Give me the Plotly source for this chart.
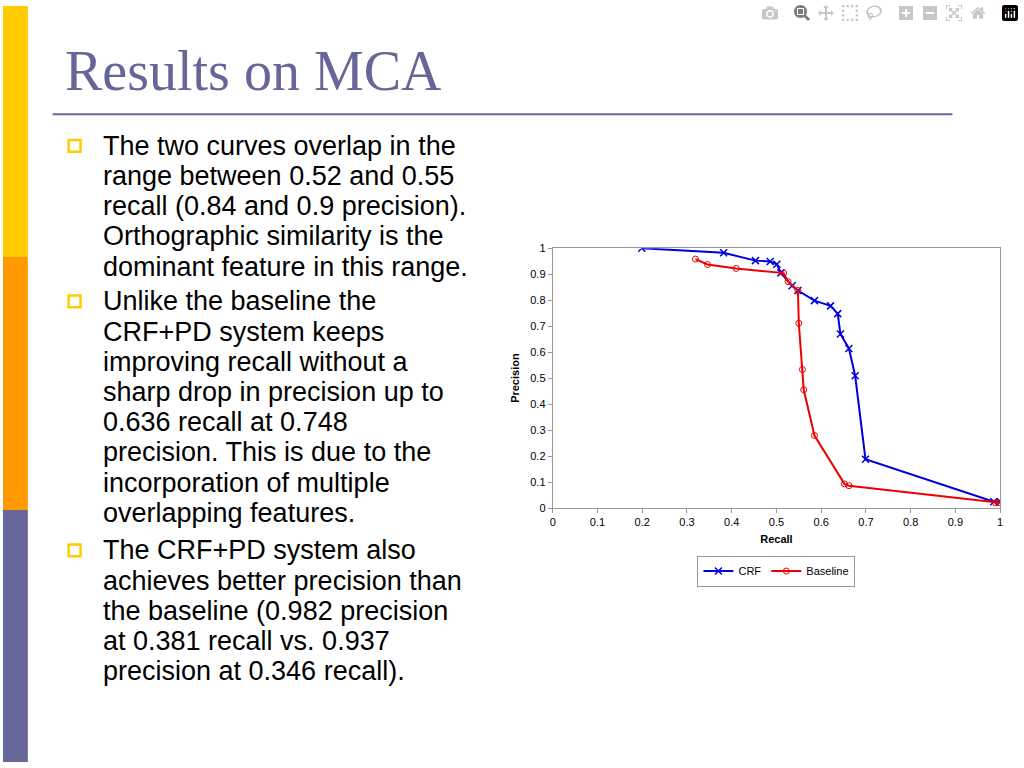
import plotly.graph_objects as go

crf_recall = [0.199, 0.382, 0.453, 0.486, 0.501, 0.510, 0.535, 0.548, 0.585, 0.621,
              0.637, 0.643, 0.662, 0.676, 0.699, 0.986, 1.0]
crf_precision = [1.0, 0.982, 0.952, 0.949, 0.938, 0.905, 0.855, 0.837, 0.798, 0.778,
                 0.748, 0.670, 0.614, 0.509, 0.188, 0.024, 0.024]

base_recall = [0.319, 0.346, 0.410, 0.516, 0.526, 0.548, 0.550, 0.558, 0.561, 0.585,
               0.652, 0.662, 0.990, 1.0]
base_precision = [0.958, 0.937, 0.922, 0.904, 0.871, 0.837, 0.711, 0.533, 0.455, 0.279,
                  0.093, 0.086, 0.020, 0.020]

ticks = [0, 0.1, 0.2, 0.3, 0.4, 0.5, 0.6, 0.7, 0.8, 0.9, 1]
tick_labels = ["0", "0.1", "0.2", "0.3", "0.4", "0.5", "0.6", "0.7", "0.8", "0.9", "1"]

bullets = [
    ["The two curves overlap in the", "range between 0.52 and 0.55",
     "recall (0.84 and 0.9 precision).", "Orthographic similarity is the",
     "dominant feature in this range."],
    ["Unlike the baseline the", "CRF+PD system keeps", "improving recall without a",
     "sharp drop in precision up to", "0.636 recall at 0.748", "precision. This is due to the",
     "incorporation of multiple", "overlapping features."],
    ["The CRF+PD system also", "achieves better precision than", "the baseline (0.982 precision",
     "at 0.381 recall vs. 0.937", "precision at 0.346 recall)."],
]
bullet_first_line = [142, 300, 553]
line_step = 30.7

W, H = 1024, 768

fig = go.Figure()
fig.add_trace(go.Scatter(x=crf_recall, y=crf_precision, name="CRF", mode="lines+markers",
                         line=dict(color="#0000dd", width=2),
                         marker=dict(symbol="x-thin", size=7, line=dict(color="#0000dd", width=1.5))))
fig.add_trace(go.Scatter(x=base_recall, y=base_precision, name="Baseline", mode="lines+markers",
                         line=dict(color="#ee0000", width=2),
                         marker=dict(symbol="circle-open", size=6, color="#ee0000")))

shapes = [
    dict(type="rect", xref="paper", yref="paper", x0=0, x1=25 / W, y0=1 - 255 / H, y1=1,
         fillcolor="#ffcc00", line_width=0, layer="below"),
    dict(type="rect", xref="paper", yref="paper", x0=0, x1=25 / W, y0=1 - 512 / H, y1=1 - 255 / H,
         fillcolor="#ff9900", line_width=0, layer="below"),
    dict(type="rect", xref="paper", yref="paper", x0=0, x1=25 / W, y0=0, y1=1 - 512 / H,
         fillcolor="#666699", line_width=0, layer="below"),
    dict(type="line", xref="paper", yref="paper", x0=50 / W, x1=955 / W, y0=1 - 110 / H, y1=1 - 110 / H,
         line=dict(color="#666699", width=2)),
]
annotations = [
    dict(text="Results on MCA", xref="paper", yref="paper", x=60 / W, y=1 - 66 / H,
         xanchor="left", yanchor="middle", showarrow=False,
         font=dict(family="Liberation Serif", size=56, color="#666699")),
]
for first, lines in zip(bullet_first_line, bullets):
    shapes.append(dict(type="rect", xref="paper", yref="paper",
                       x0=66 / W, x1=78 / W, y0=1 - (first + 6) / H, y1=1 - (first - 6) / H,
                       line=dict(color="#ffcc00", width=2.5), fillcolor="white"))
    for i, txt in enumerate(lines):
        annotations.append(dict(text=txt, xref="paper", yref="paper", x=99 / W,
                                y=1 - (first + i * line_step) / H,
                                xanchor="left", yanchor="middle", align="left", showarrow=False,
                                font=dict(family="Liberation Sans", size=27, color="black")))

fig.update_layout(
    width=W, height=H, margin=dict(l=0, r=0, t=0, b=0),
    paper_bgcolor="white", plot_bgcolor="white",
    font=dict(family="Liberation Sans", size=11, color="black"),
    shapes=shapes, annotations=annotations,
    legend=dict(orientation="h", x=778 / W, y=1 - 574 / H, xanchor="center", yanchor="middle",
                bordercolor="#999999", borderwidth=1, font=dict(size=11),
                itemwidth=30, tracegroupgap=0),
    xaxis=dict(domain=[553 / W, 1003 / W], range=[0, 1], tickvals=ticks, ticktext=tick_labels,
               showgrid=False, zeroline=False, showline=True, linecolor="#999999", mirror=True,
               ticks="outside", ticklen=4, tickcolor="#999999",
               title=dict(text="<b>Recall</b>", font=dict(size=11), standoff=8)),
    yaxis=dict(domain=[1 - 510 / H, 1 - 246 / H], range=[0, 1], tickvals=ticks, ticktext=tick_labels,
               showgrid=False, zeroline=False, showline=True, linecolor="#999999", mirror=True,
               ticks="outside", ticklen=4, tickcolor="#999999",
               title=dict(text="<b>Precision</b>", font=dict(size=11), standoff=8)),
)

fig.write_html("out.html", post_script="document.body.style.margin='0';")
